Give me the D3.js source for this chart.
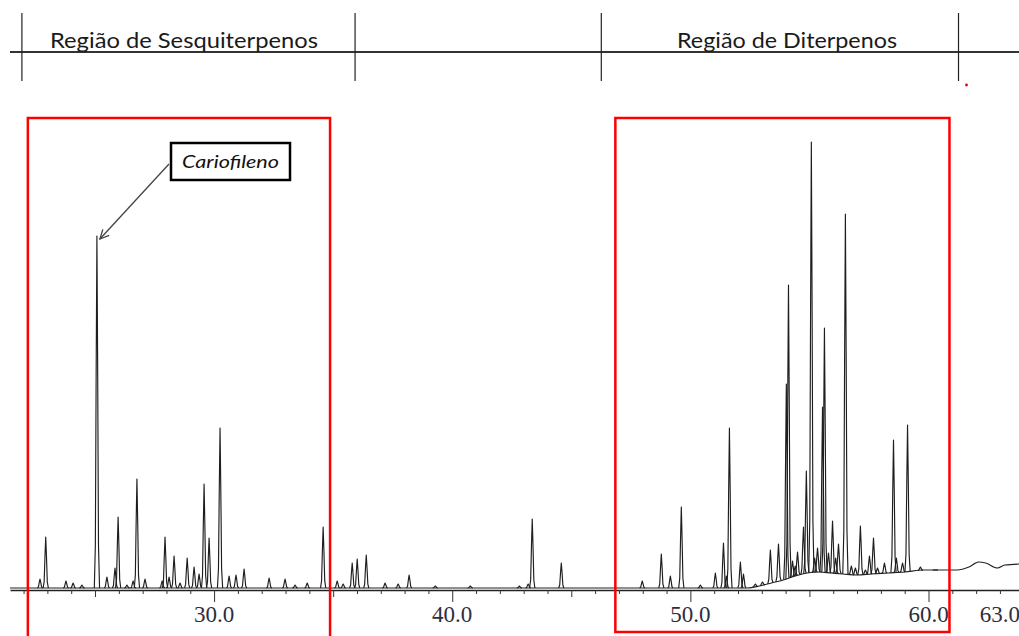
<!DOCTYPE html>
<html>
<head>
<meta charset="utf-8">
<script src="https://cdn.jsdelivr.net/npm/d3@7"></script>
<style>
  body { margin: 0; background: #fff; }
  svg { display: block; }
</style>
</head>
<body>
<svg id="chart" width="1019" height="636"></svg>
<script>
// Chromatogram peaks: [retention time (min), apex signal]
const peaksSesqui = [
  [22.69, 9], [22.93, 51], [23.78, 7], [24.08, 5], [24.45, 3],
  [25.08, 352], [25.50, 11], [25.84, 20], [25.97, 71], [26.34, 3],
  [26.60, 7], [26.76, 109], [27.10, 9], [27.82, 7], [27.94, 51],
  [28.11, 11], [28.32, 32], [28.57, 5], [28.87, 30], [29.16, 21],
  [29.37, 14], [29.58, 104], [29.79, 50], [30.25, 160], [30.63, 12],
  [30.92, 13], [31.26, 19], [32.31, 10], [32.98, 9], [33.40, 3],
  [33.91, 5], [34.58, 61], [35.17, 7]
];
const peaksMiddle = [
  [35.42, 4], [35.80, 25], [36.01, 29], [36.39, 33], [37.18, 5],
  [37.73, 4], [38.19, 13], [39.29, 2], [40.76, 2], [42.82, 2],
  [43.19, 4], [43.36, 69], [44.58, 25], [47.98, 7]
];
const peaksDiter = [
  [48.78, 34], [49.16, 12], [49.62, 81], [50.42, 3], [51.05, 15],
  [51.39, 45], [51.51, 12], [51.64, 160], [52.10, 26], [52.23, 14],
  [52.73, 4], [53.03, 6], [53.36, 38], [53.70, 44], [54.03, 204],
  [54.12, 303], [54.29, 27], [54.40, 22], [54.50, 36], [54.75, 61],
  [54.87, 117], [55.08, 446], [55.22, 30], [55.34, 40], [55.55, 181],
  [55.63, 260], [55.80, 35], [55.97, 67], [56.10, 30], [56.22, 44],
  [56.51, 374], [56.76, 22], [56.93, 20], [57.14, 62], [57.35, 18],
  [57.52, 32], [57.69, 50], [57.86, 20], [58.15, 25], [58.53, 148],
  [58.65, 30], [58.91, 25], [59.12, 163], [59.66, 21], [60.29, 18]
];
// Baseline drift: [time, signal]
const baseline = [
  [21.43, 0], [52.4, 0], [52.9, 2], [53.4, 5], [53.9, 8], [54.4, 12],
  [54.9, 15], [55.4, 16], [55.9, 15], [56.4, 14], [57.0, 13], [57.6, 14],
  [58.3, 15], [59.0, 16], [59.8, 18], [60.5, 18], [61.2, 18], [61.7, 21],
  [62.1, 26], [62.4, 25], [62.9, 20], [63.2, 23], [63.8, 24]
];
const majorTicks = [30, 40, 50, 60, 63];
const minorTicks = d3.range(22, 64);
// Region annotations (minutes)
const headerMarks = [21.93, 35.92, 46.26, 61.26];
const headerLabels = [
  { text: "Região de Sesquiterpenos", start: 23.11, length: 268 },
  { text: "Região de Diterpenos", start: 49.44, length: 220 }
];
const regionBoxes = [[22.18, 34.87], [46.85, 60.88]];
const highlight = { name: "Cariofileno", time: 25.08 };

const svg = d3.select("#chart");

const x = d3.scaleLinear().domain([21.43, 63.8]).range([10, 1019]);
const y = d3.scaleLinear().domain([0, 500]).range([588, 88]);
const baseAt = d3.scaleLinear()
  .domain(baseline.map(d => d[0]))
  .range(baseline.map(d => d[1]));

// header
const header = svg.append("g");
header.append("line")
  .attr("x1", 10).attr("x2", 1019)
  .attr("y1", 52).attr("y2", 52)
  .attr("stroke", "#333").attr("stroke-width", 1.8);
header.selectAll(".vmark")
  .data(headerMarks)
  .enter()
  .append("line")
  .attr("x1", d => x(d)).attr("x2", d => x(d))
  .attr("y1", 13).attr("y2", 81)
  .attr("stroke", "#222").attr("stroke-width", 1.2);
header.selectAll(".hlabel")
  .data(headerLabels)
  .enter()
  .append("text")
  .attr("x", d => x(d.start))
  .attr("y", 48)
  .attr("font-family", "Lato, 'Open Sans', sans-serif")
  .attr("font-size", 22)
  .attr("fill", "#1a1a1a")
  .attr("textLength", d => d.length)
  .attr("lengthAdjust", "spacingAndGlyphs")
  .text(d => d.text);
header.append("circle")
  .attr("cx", x(61.26) + 8).attr("cy", 85).attr("r", 1.4)
  .attr("fill", "#e00");

// axis
const axis = svg.append("g")
  .attr("transform", "translate(0,590)")
  .call(d3.axisBottom(x).tickValues(minorTicks).tickSizeOuter(0).tickFormat(""));
axis.select(".domain").attr("stroke", "#222").attr("stroke-width", 1.3);
axis.selectAll(".tick line")
  .attr("stroke", "#333")
  .attr("y2", d => (d % 10 === 0 ? 12 : d % 5 === 0 ? 7 : 4));
svg.append("g")
  .selectAll("text")
  .data(majorTicks)
  .enter()
  .append("text")
  .attr("x", d => x(d))
  .attr("y", 622)
  .attr("text-anchor", "middle")
  .attr("font-family", "'Liberation Serif', 'Times New Roman', serif")
  .attr("font-size", 23)
  .attr("fill", "#2e2e3c")
  .text(d => d.toFixed(1));

// trace
const line = d3.line().x(d => x(d[0])).y(d => y(d[1]));
svg.append("path")
  .attr("d", line.curve(d3.curveMonotoneX)(baseline))
  .attr("fill", "none")
  .attr("stroke", "#222")
  .attr("stroke-width", 1.2);

const w = 0.11;
function peakPoints(p) {
  const t = p[0], top = p[1];
  const b = baseAt(t);
  const h = top - b;
  return [
    [t - w, baseAt(t - w)],
    [t - w * 0.6, b + h * 0.12],
    [t - w * 0.3, b + h * 0.6],
    [t, top],
    [t + w * 0.3, b + h * 0.6],
    [t + w * 0.6, b + h * 0.12],
    [t + w, baseAt(t + w)]
  ];
}
const peakLine = d3.line().x(d => x(d[0])).y(d => y(d[1]));
svg.append("g")
  .selectAll("path")
  .data(peaksSesqui.concat(peaksMiddle, peaksDiter))
  .enter()
  .append("path")
  .attr("d", d => peakLine(peakPoints(d)))
  .attr("fill", "none")
  .attr("stroke", "#1e1e1e")
  .attr("stroke-width", 1.15)
  .attr("stroke-linejoin", "round");

// region boxes
svg.append("g")
  .selectAll("rect")
  .data(regionBoxes)
  .enter()
  .append("rect")
  .attr("x", d => x(d[0]))
  .attr("y", 118)
  .attr("width", d => x(d[1]) - x(d[0]))
  .attr("height", (d, i) => (i === 0 ? 530 : 514))
  .attr("fill", "none")
  .attr("stroke", "#ff0000")
  .attr("stroke-width", 2.5);

// Cariofileno callout
const topPeak = peaksSesqui.find(p => p[0] === highlight.time);
const tipX = x(topPeak[0]) + 3, tipY = y(topPeak[1]) + 3;
const callout = svg.append("g");
callout.append("rect")
  .attr("x", 171).attr("y", 143)
  .attr("width", 119).attr("height", 37)
  .attr("fill", "#fff")
  .attr("stroke", "#000")
  .attr("stroke-width", 2.5);
callout.append("text")
  .attr("x", 230.5).attr("y", 168)
  .attr("text-anchor", "middle")
  .attr("font-family", "Lato, 'Open Sans', sans-serif")
  .attr("font-style", "italic")
  .attr("font-size", 18)
  .attr("fill", "#111")
  .attr("textLength", 97)
  .attr("lengthAdjust", "spacingAndGlyphs")
  .text(highlight.name);
const sx = 169, sy = 164;
callout.append("line")
  .attr("x1", sx).attr("y1", sy)
  .attr("x2", tipX).attr("y2", tipY)
  .attr("stroke", "#444").attr("stroke-width", 1.3);
const ang = Math.atan2(tipY - sy, tipX - sx);
const head = [ang + Math.PI - 0.45, ang + Math.PI + 0.45].map(a => [
  tipX + 10 * Math.cos(a), tipY + 10 * Math.sin(a)
]);
callout.append("path")
  .attr("d", "M" + head[0] + "L" + tipX + "," + tipY + "L" + head[1])
  .attr("fill", "none")
  .attr("stroke", "#444")
  .attr("stroke-width", 1.3);
</script>
</body>
</html>
